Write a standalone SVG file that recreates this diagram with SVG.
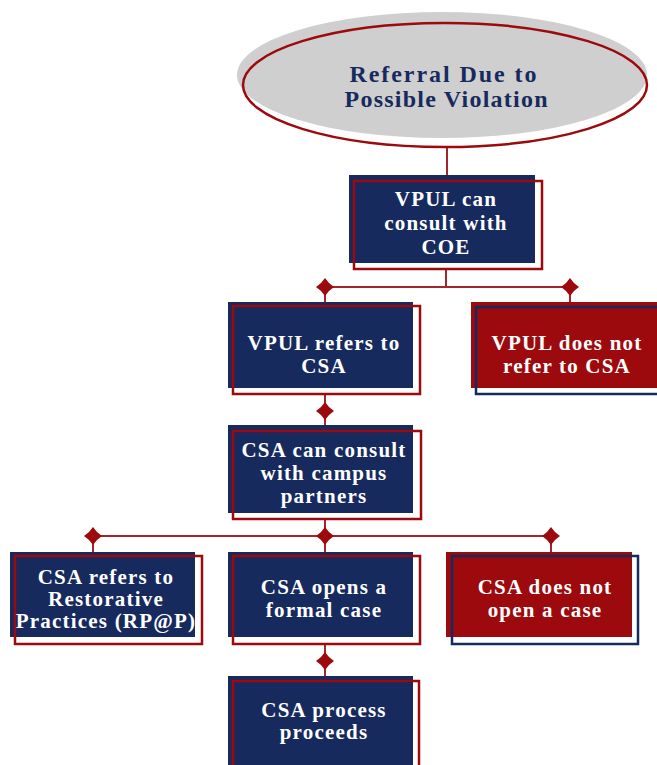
<svg xmlns="http://www.w3.org/2000/svg" width="657" height="765" viewBox="0 0 657 765">
<style>
.navy{fill:#172a5e}
.red{fill:#9c0a0e}
.ored{fill:none;stroke:#9c0a0e;stroke-width:2.5}
.onavy{fill:none;stroke:#172a5e;stroke-width:2.5}
.t{font-family:"Liberation Serif",serif;font-weight:bold;font-size:21px;letter-spacing:1.2px;fill:#ffffff;text-anchor:middle}
.tt{font-family:"Liberation Serif",serif;font-weight:bold;font-size:24px;fill:#172a5e;text-anchor:middle}
.c{stroke:#a3262b;stroke-width:2;fill:none}
</style>
<defs>
<path id="star" d="M0,-9 L4,-4 L9,0 L4,4 L0,9 L-4,4 L-9,0 L-4,-4 Z" fill="#9c0a0e"/>
</defs>
<g id="connectors">
<path class="c" d="M447,148 V175"/>
<path class="c" d="M446,269 V287 M325,287 H570 M325,287 V302 M570,287 V302"/>
<path class="c" d="M325,394 V425"/>
<path class="c" d="M325,519 V536 M93,536 H551 M93,536 V552 M325,536 V552 M551,536 V552"/>
<path class="c" d="M325,644 V676"/>
<use href="#star" x="325" y="287"/>
<use href="#star" x="570" y="287"/>
<use href="#star" x="325" y="411"/>
<use href="#star" x="93" y="536"/>
<use href="#star" x="325" y="536"/>
<use href="#star" x="551" y="536"/>
<use href="#star" x="325" y="661"/>
</g>
<g id="start">
<ellipse cx="442" cy="75" rx="205" ry="63" fill="#cfcfcf"/>
<ellipse cx="445" cy="85" rx="202" ry="62" fill="none" stroke="#9c0a0e" stroke-width="2.5"/>
<text class="tt" x="443" y="82" textLength="187" lengthAdjust="spacing">Referral Due to</text>
<text class="tt" x="446" y="107" textLength="203" lengthAdjust="spacing">Possible Violation</text>
</g>
<g id="vpul-consult">
<rect class="navy" x="349" y="175" width="186" height="88"/>
<rect class="ored" x="354" y="181" width="188" height="88"/>
<text class="t" x="446" y="206">VPUL can</text>
<text class="t" x="446" y="230">consult with</text>
<text class="t" x="446" y="254">COE</text>
</g>
<g id="vpul-refers">
<rect class="navy" x="228" y="302" width="185" height="86"/>
<rect class="ored" x="233" y="306" width="187" height="88"/>
<text class="t" x="324" y="350">VPUL refers to</text>
<text class="t" x="324" y="373">CSA</text>
</g>
<g id="vpul-not">
<rect class="red" x="471" y="302" width="186" height="86"/>
<rect class="onavy" x="476" y="307" width="184" height="87"/>
<text class="t" x="567" y="350">VPUL does not</text>
<text class="t" x="567" y="373">refer to CSA</text>
</g>
<g id="csa-consult">
<rect class="navy" x="228" y="425" width="185" height="88"/>
<rect class="ored" x="233" y="431" width="188" height="88"/>
<text class="t" x="324" y="457">CSA can consult</text>
<text class="t" x="324" y="480">with campus</text>
<text class="t" x="324" y="503">partners</text>
</g>
<g id="csa-rp">
<rect class="navy" x="10" y="552" width="185" height="85"/>
<rect class="ored" x="15" y="556" width="187" height="88"/>
<text class="t" x="106" y="584">CSA refers to</text>
<text class="t" x="106" y="606">Restorative</text>
<text class="t" x="106" y="628">Practices (RP@P)</text>
</g>
<g id="csa-opens">
<rect class="navy" x="228" y="552" width="185" height="85"/>
<rect class="ored" x="233" y="556" width="187" height="88"/>
<text class="t" x="324" y="594">CSA opens a</text>
<text class="t" x="324" y="617">formal case</text>
</g>
<g id="csa-not">
<rect class="red" x="446" y="552" width="186" height="85"/>
<rect class="onavy" x="452" y="556" width="186" height="88"/>
<text class="t" x="545" y="594">CSA does not</text>
<text class="t" x="545" y="617">open a case</text>
</g>
<g id="csa-proceeds">
<rect class="navy" x="228" y="676" width="185" height="95"/>
<rect class="ored" x="233" y="681" width="186" height="95"/>
<text class="t" x="324" y="717">CSA process</text>
<text class="t" x="324" y="739">proceeds</text>
</g>
</svg>
